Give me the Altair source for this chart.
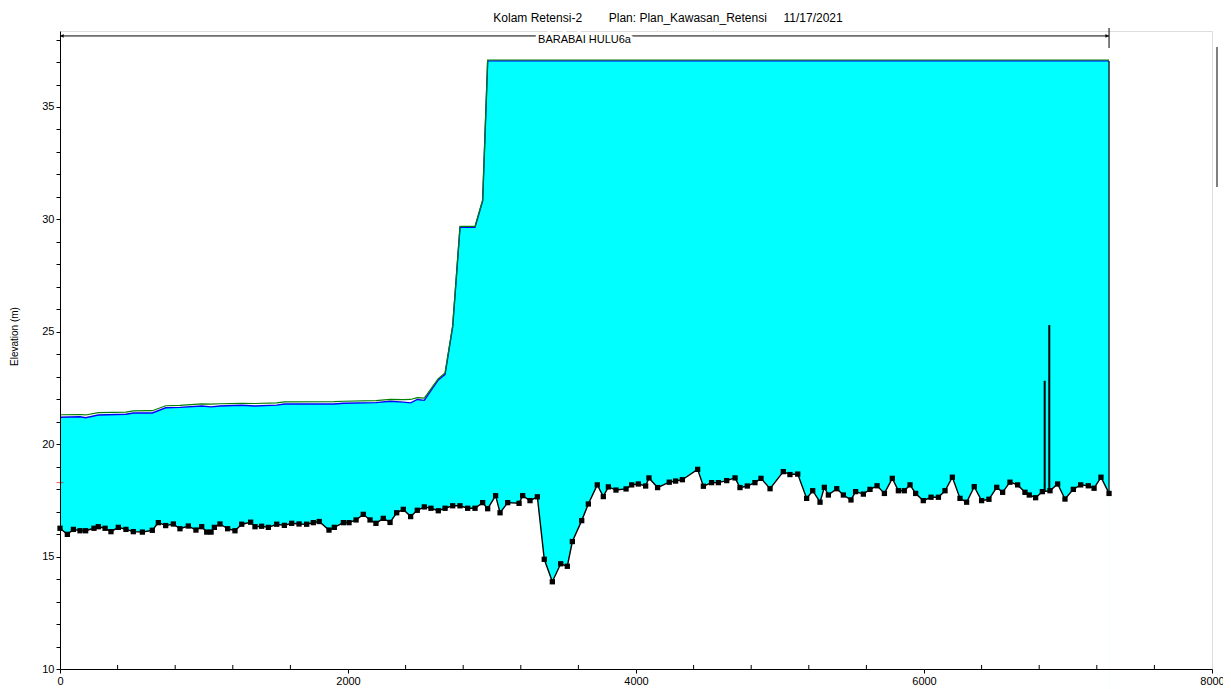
import altair as alt
import pandas as pd

# ---------------- data ----------------
station = [0, 51, 93, 139, 178, 236, 266, 313, 354, 405, 458, 509, 572, 641, 683, 734, 787, 833, 891, 944,
           984, 1019, 1049, 1072, 1111, 1164, 1215, 1262, 1324, 1354, 1400, 1447, 1505, 1558, 1609, 1660,
           1713, 1759, 1800, 1868, 1905, 1968, 2007, 2056, 2106, 2153, 2194, 2245, 2292, 2338, 2384, 2435,
           2481, 2530, 2576, 2627, 2674, 2727, 2778, 2831, 2882, 2935, 2970, 3025, 3056, 3109, 3188, 3213,
           3264, 3315, 3363, 3419, 3477, 3523, 3558, 3623, 3669, 3731, 3773, 3808, 3861, 3931, 3970, 4016,
           4067, 4090, 4150, 4231, 4275, 4322, 4428, 4468, 4525, 4572, 4630, 4688, 4722, 4773, 4826, 4868,
           4931, 5023, 5069, 5123, 5185, 5227, 5278, 5308, 5336, 5394, 5440, 5493, 5525, 5579, 5625, 5674,
           5725, 5780, 5822, 5863, 5903, 5942, 5995, 6049, 6100, 6146, 6197, 6250, 6296, 6349, 6400, 6451,
           6505, 6546, 6597, 6650, 6701, 6731, 6775, 6822, 6875, 6928, 6979, 7037, 7088, 7141, 7181, 7229,
           7285]
ground = [16.26, 15.99, 16.21, 16.15, 16.15, 16.26, 16.33, 16.26, 16.11, 16.30, 16.21, 16.11, 16.09, 16.17,
          16.51, 16.38, 16.45, 16.24, 16.36, 16.18, 16.33, 16.09, 16.09, 16.30, 16.45, 16.24, 16.15, 16.44,
          16.53, 16.33, 16.35, 16.30, 16.44, 16.39, 16.48, 16.45, 16.44, 16.51, 16.56, 16.18, 16.30, 16.51,
          16.51, 16.63, 16.88, 16.63, 16.48, 16.70, 16.52, 16.95, 17.10, 16.78, 17.06, 17.21, 17.15, 17.04,
          17.15, 17.26, 17.26, 17.15, 17.15, 17.40, 17.13, 17.71, 16.95, 17.40, 17.37, 17.71, 17.49, 17.66,
          14.88, 13.88, 14.68, 14.57, 15.67, 16.60, 17.34, 18.19, 17.67, 18.10, 17.96, 18.01, 18.19, 18.23,
          18.14, 18.50, 18.07, 18.31, 18.36, 18.42, 18.88, 18.13, 18.29, 18.29, 18.38, 18.50, 18.07, 18.14,
          18.29, 18.48, 18.02, 18.78, 18.65, 18.67, 17.59, 17.93, 17.42, 18.08, 17.74, 18.02, 17.74, 17.52,
          17.89, 17.78, 17.99, 18.15, 17.81, 18.48, 17.93, 17.93, 18.19, 17.81, 17.49, 17.64, 17.64, 17.93,
          18.53, 17.59, 17.42, 18.11, 17.49, 17.55, 18.08, 17.86, 18.31, 18.19, 17.86, 17.74, 17.62, 17.89,
          17.93, 18.23, 17.56, 17.99, 18.19, 18.15, 18.04, 18.53, 17.81]

ws_station = [0, 139, 178, 266, 458, 509, 641, 734, 833, 984, 1049, 1111, 1262, 1354, 1505, 1558, 1905,
              1968, 2194, 2292, 2384, 2435, 2481, 2530, 2627, 2674, 2727, 2778, 2882, 2935, 2970, 7285]
ws_elev = [21.20, 21.22, 21.18, 21.30, 21.33, 21.39, 21.39, 21.62, 21.64, 21.70, 21.66, 21.70, 21.73, 21.70,
           21.74, 21.79, 21.79, 21.82, 21.85, 21.91, 21.87, 21.84, 21.99, 21.95, 22.86, 23.11, 25.23, 29.65,
           29.65, 30.82, 37.05, 37.05]
eg_elev = [21.31, 21.32, 21.30, 21.40, 21.43, 21.48, 21.49, 21.71, 21.73, 21.79, 21.78, 21.80, 21.82, 21.81,
           21.84, 21.88, 21.89, 21.91, 21.94, 21.99, 21.98, 21.99, 22.07, 22.05, 22.92, 23.17, 25.28, 29.69,
           29.69, 30.87, 37.09, 37.09]

struct_station = [6838, 6870]
struct_bottom = [17.89, 17.93]
struct_top = [22.82, 25.30]

end_station = [7285]
end_bottom = [17.81]
end_top = [37.05]

x_major = [0, 2000, 4000, 6000, 8000]
x_minor = [v for v in range(400, 8000, 400) if v % 2000 != 0]
y_ticks = list(range(10, 39))

reach_label = ["BARABAI HULU6a"]
reach_from = [0]
reach_to = [7285]
reach_elev = [38.16]
bank_station = [0]
bank_elev = [18.29]

title_text = ("Kolam Retensi-2" + "\u00a0" * 8 + "Plan: Plan_Kawasan_Retensi" + "\u00a0" * 5 + "11/17/2021")

# ---------------- chart ----------------
W, H = 1152, 638
FONT = "Liberation Sans"
xs = alt.Scale(domain=[0, 8000], nice=False, zero=False)
ys = alt.Scale(domain=[10, 38.38], nice=False, zero=False)

x_axis = alt.Axis(values=x_major, format="d", tickSize=4, labelFont=FONT, labelFontSize=11, labelColor="black",
                  domainColor="black", tickColor="black", grid=False, labelPadding=2, zindex=1,
                  labelFlush=False, labelOverlap=False, title="")
y_axis = alt.Axis(values=y_ticks, labelExpr="datum.value % 5 === 0 ? datum.label : ''", tickSize=4,
                  labelFont=FONT, labelFontSize=11, labelColor="black", domainColor="black",
                  tickColor="black", grid=False, labelPadding=2, zindex=1, labelFlush=False,
                  labelOverlap=False, title="Elevation (m)", titleFont=FONT, titleFontSize=10,
                  titleFontWeight="normal", titleColor="black", titlePadding=22, titleY=305)


def X(field):
    return alt.X(f"{field}:Q", scale=xs, axis=x_axis)


def Y(field):
    return alt.Y(f"{field}:Q", scale=ys, axis=y_axis)


gdf = pd.DataFrame({"station": station, "elev": ground})
wdf = pd.DataFrame({"station": ws_station, "ws": ws_elev, "eg": eg_elev})
sdf = pd.DataFrame({"station": struct_station, "bot": struct_bottom, "top": struct_top})
edf = pd.DataFrame({"station": end_station, "bot": end_bottom, "top": end_top})
mdf = pd.DataFrame({"station": x_minor, "lo": [10.0] * len(x_minor), "hi": [10.18] * len(x_minor)})
rdf = pd.DataFrame({"a": reach_from, "b": reach_to, "elev": reach_elev,
                    "mid": [(reach_from[0] + reach_to[0]) / 2], "label": reach_label})
bdf = pd.DataFrame({"station": bank_station, "elev": bank_elev})

water = alt.Chart(wdf).mark_area(color="#00FFFF", opacity=1).encode(x=X("station"), y=Y("ws"), y2=alt.value(H))
below = alt.Chart(gdf).mark_area(color="white", opacity=1).encode(x=X("station"), y=Y("elev"), y2=alt.value(H))
ws_line = alt.Chart(wdf).mark_line(color="#0000FF", strokeWidth=1.4).encode(x=X("station"), y=Y("ws"))
eg_line = alt.Chart(wdf).mark_line(color="#008000", strokeWidth=1.2).encode(x=X("station"), y=Y("eg"))
g_line = alt.Chart(gdf).mark_line(color="black", strokeWidth=1.4).encode(x=X("station"), y=Y("elev"))
g_pts = alt.Chart(gdf).mark_point(shape="square", filled=True, color="black", size=28, opacity=1).encode(
    x=X("station"), y=Y("elev"))
structs = alt.Chart(sdf).mark_rule(color="black", strokeWidth=2).encode(x=X("station"), y=Y("bot"), y2="top:Q")
end_rule = alt.Chart(edf).mark_rule(color="black", strokeWidth=1.2).encode(x=X("station"), y=Y("bot"), y2="top:Q")
minor = alt.Chart(mdf).mark_rule(color="black", strokeWidth=1).encode(x=X("station"), y=Y("lo"), y2="hi:Q")
reach_line = alt.Chart(rdf).mark_rule(color="black", strokeWidth=1).encode(x=X("a"), x2="b:Q", y=Y("elev"))
reach_end = alt.Chart(rdf).mark_rule(color="black", strokeWidth=1).encode(
    x=X("b"), y=alt.value(-3), y2=alt.value(17))
arrow_l = alt.Chart(rdf).mark_point(shape="triangle-left", filled=True, color="black", size=14, opacity=1).encode(
    x=X("a"), y=Y("elev"), xOffset=alt.value(2))
arrow_r = alt.Chart(rdf).mark_point(shape="triangle-right", filled=True, color="black", size=14, opacity=1).encode(
    x=X("b"), y=Y("elev"), xOffset=alt.value(-2))
label_bg = alt.Chart(rdf).mark_text(font=FONT, fontSize=11, color="white", stroke="white", strokeWidth=6,
                                    dy=4, baseline="middle").encode(x=X("mid"), y=Y("elev"), text="label:N")
label_fg = alt.Chart(rdf).mark_text(font=FONT, fontSize=11, color="black", dy=4, baseline="middle").encode(
    x=X("mid"), y=Y("elev"), text="label:N")
bank = alt.Chart(bdf).mark_tick(color="red", orient="horizontal", size=7, thickness=1).encode(
    x=X("station"), y=Y("elev"))
legend_edge = alt.Chart(bdf).mark_rule(color="black", strokeWidth=1).encode(
    x=alt.value(1157), y=alt.value(16), y2=alt.value(156))

chart = alt.layer(
    water, below, ws_line, eg_line, g_line, g_pts, structs, end_rule, minor,
    reach_line, reach_end, arrow_l, arrow_r, label_bg, label_fg, bank, legend_edge
).properties(
    width=W, height=H,
    title=alt.TitleParams(title_text, font=FONT, fontSize=12, fontWeight="normal", color="black",
                          anchor="middle", dx=32, offset=3, frame="group"),
    autosize=alt.AutoSizeParams(type="none"),
    padding={"left": 52, "top": 23, "right": 11, "bottom": 30},
).configure_view(stroke=None).configure(background="white")

chart.save("out.html", embed_options={"renderer": "svg", "actions": False})
